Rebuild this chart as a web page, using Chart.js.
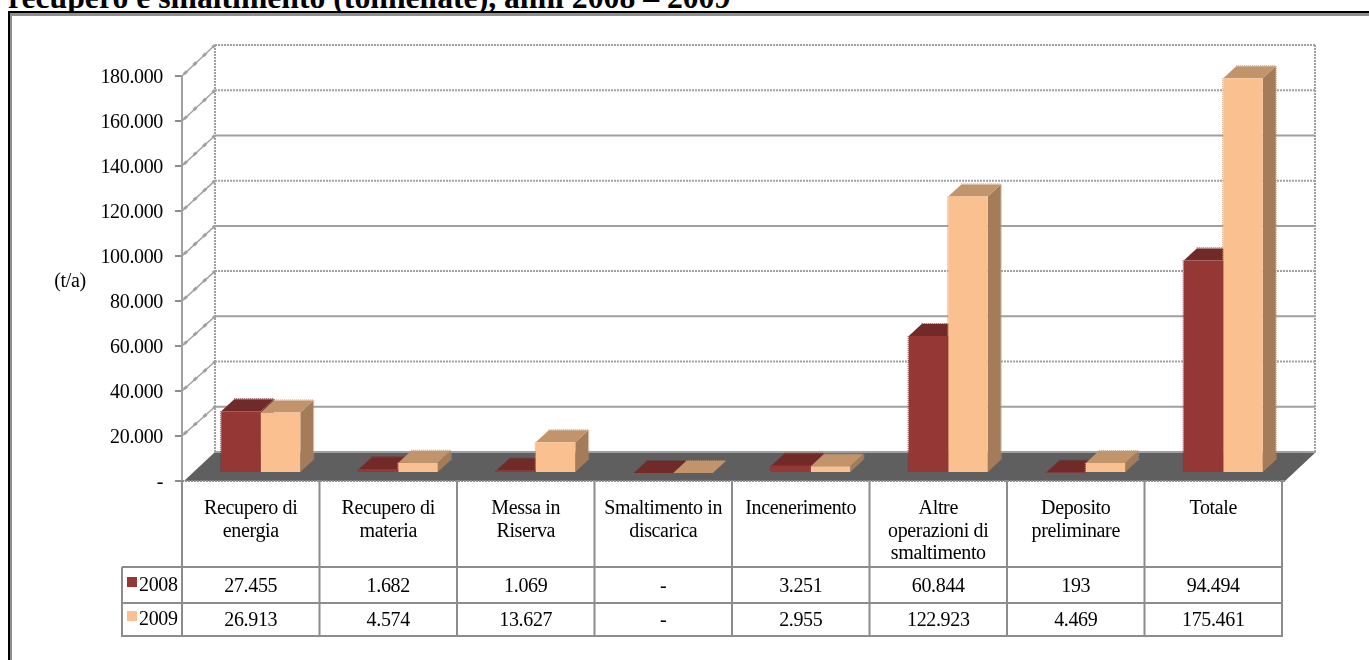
<!DOCTYPE html>
<html>
<head>
<meta charset="utf-8">
<script src="https://cdn.jsdelivr.net/npm/chart.js@4"></script>
<style>
	html, body { margin: 0; padding: 0; background: #fff; overflow: hidden; }
	#wrap { position: relative; width: 1369px; height: 660px; overflow: hidden; }
	#title { position: absolute; left: 8px; top: -20px; font: bold 31.7px "Liberation Serif", serif; line-height: 36px; white-space: nowrap; color: #000; }
	#frame { position: absolute; left: 8px; top: 11px; width: 1400px; height: 700px; border-left: 2px solid #000; border-top: 2px solid #000; box-shadow: inset 2px 3px 0 #8f8f8f; }
	canvas { position: absolute; left: 0; top: 0; }
</style>
</head>
<body>
<div id="wrap">
	<div id="title">recupero e smaltimento (tonnellate), anni 2008 – 2009</div>
	<div id="frame"></div>
	<canvas id="chart" width="1369" height="660"></canvas>
</div>
<script>
// 데이터
const categories = [
	['Recupero di', 'energia'],
	['Recupero di', 'materia'],
	['Messa in', 'Riserva'],
	['Smaltimento in', 'discarica'],
	['Incenerimento'],
	['Altre', 'operazioni di', 'smaltimento'],
	['Deposito', 'preliminare'],
	['Totale']
];
const values2008 = [27455, 1682, 1069, 0, 3251, 60844, 193, 94494];
const values2009 = [26913, 4574, 13627, 0, 2955, 122923, 4469, 175461];
const yTicks = [0, 20000, 40000, 60000, 80000, 100000, 120000, 140000, 160000, 180000];
const dottedTicks = [40000, 80000, 120000, 160000, 180000];
const years = ['2008', '2009'];

const FONT = '"Liberation Serif", serif';
const GRID = '#a0a0a0';
const TABLE = '#8c8c8c';
const faces = [
	{ front: '#953735', top: '#722a28', side: '#722a28' },
	{ front: '#fac090', top: '#c1946b', side: '#a47c5a' }
];

// 숫자 표시 (0은 '-')
function fmt(n) {
	if (n === 0) return '-';
	return String(n).replace(/\B(?=(\d{3})+$)/g, '.');
}

const TIGHT = '-0.35px';

const wallPlugin = {
	id: 'wall',
	afterLayout(chart) {
		// y축 라벨을 조금 아래로
		chart.scales.y.getLabelItems().forEach((item) => {
			item.options.translation[1] += 2;
		});
	},
	beforeDraw(chart) {
		const ctx = chart.ctx;
		const y = chart.scales.y;
		const a = chart.chartArea;
		ctx.letterSpacing = TIGHT;
		const backY = (px) => 452 - (a.bottom - px) * 407 / 405;
		ctx.save();
		// 바닥
		ctx.fillStyle = '#5f5f5f';
		ctx.beginPath();
		ctx.moveTo(a.left + 2, a.bottom);
		ctx.lineTo(a.left + 33, 452);
		ctx.lineTo(a.right + 34, 452);
		ctx.lineTo(a.right + 3, a.bottom);
		ctx.closePath();
		ctx.fill();
		// 뒷벽 격자
		ctx.strokeStyle = GRID;
		ctx.lineWidth = 2;
		yTicks.forEach((t) => {
			const py = backY(y.getPixelForValue(t));
			ctx.setLineDash(dottedTicks.includes(t) ? [2, 1] : []);
			ctx.beginPath();
			ctx.moveTo(a.left + 33, py);
			ctx.lineTo(a.right + 33, py);
			ctx.stroke();
		});
		ctx.setLineDash([2, 1]);
		ctx.beginPath();
		ctx.moveTo(a.left + 33, backY(a.top));
		ctx.lineTo(a.left + 33, 452);
		ctx.moveTo(a.right + 33, backY(a.top));
		ctx.lineTo(a.right + 33, 452);
		ctx.stroke();
		// 왼쪽 벽 사선
		yTicks.forEach((t) => {
			if (t === 0) return;
			const py = y.getPixelForValue(t);
			ctx.beginPath();
			ctx.lineWidth = 1.5;
			ctx.setLineDash([]);
			ctx.moveTo(a.left, py);
			ctx.lineTo(a.left + 33, backY(py));
			ctx.stroke();
			ctx.beginPath();
			ctx.lineWidth = 3;
			ctx.setLineDash([4, 9]);
			ctx.moveTo(a.left + 2, py - 2);
			ctx.lineTo(a.left + 33, backY(py));
			ctx.stroke();
		});
		ctx.restore();
	},
	beforeDatasetsDraw(chart) {
		const ctx = chart.ctx;
		ctx.save();
		ctx.translate(10, -8);
		// 막대 윗면, 옆면
		chart.data.datasets.forEach((ds, i) => {
			chart.getDatasetMeta(i).data.forEach((bar) => {
				const p = bar.getProps(['x', 'y', 'base', 'width'], true);
				const l = p.x - p.width / 2;
				const r = p.x + p.width / 2;
				ctx.fillStyle = faces[i].side;
				ctx.beginPath();
				ctx.moveTo(r, p.y);
				ctx.lineTo(r + 13, p.y - 12);
				ctx.lineTo(r + 13, p.base - 12);
				ctx.lineTo(r, p.base);
				ctx.closePath();
				ctx.fill();
				ctx.fillStyle = faces[i].top;
				ctx.beginPath();
				ctx.moveTo(l, p.y);
				ctx.lineTo(l + 13, p.y - 12);
				ctx.lineTo(r + 13, p.y - 12);
				ctx.lineTo(r, p.y);
				ctx.closePath();
				ctx.fill();
				// 톱니 모양 가장자리
				ctx.save();
				ctx.strokeStyle = faces[i].top;
				ctx.setLineDash([1, 1]);
				ctx.beginPath();
				ctx.moveTo(l + 13, p.y - 12.5);
				ctx.lineTo(r + 13, p.y - 12.5);
				ctx.moveTo(r + 13.5, p.y - 12);
				ctx.lineTo(r + 13.5, p.base - 12);
				ctx.moveTo(l - 0.5, p.y);
				ctx.lineTo(l - 0.5, p.base);
				ctx.stroke();
				ctx.restore();
			});
		});
	},
	afterDatasetsDraw(chart) {
		chart.ctx.restore();
		drawTable(chart);
	}
};

// 데이터 테이블
function drawTable(chart) {
	const ctx = chart.ctx;
	const x = chart.scales.x;
	const a = chart.chartArea;
	const rows = [567, 603, 636];
	const rowText = [587, 621];
	const cols = categories.length;
	const w = (a.right - a.left) / cols;
	ctx.save();
	ctx.strokeStyle = TABLE;
	ctx.lineWidth = 2;
	ctx.beginPath();
	for (let i = 0; i <= cols; i++) {
		ctx.moveTo(a.left + i * w, a.bottom - 1);
		ctx.lineTo(a.left + i * w, rows[2] + 1);
	}
	rows.forEach((r) => {
		ctx.moveTo(122, r);
		ctx.lineTo(a.right + 1, r);
	});
	ctx.moveTo(122, rows[0]);
	ctx.lineTo(122, rows[2] + 1);
	ctx.stroke();
	// 바닥 앞쪽 선
	ctx.setLineDash([2, 1]);
	ctx.beginPath();
	ctx.moveTo(a.left, a.bottom);
	ctx.lineTo(a.right + 3, a.bottom);
	ctx.stroke();
	ctx.setLineDash([]);

	ctx.font = '20px ' + FONT;
	ctx.textBaseline = 'middle';
	ctx.fillStyle = '#000';
	[values2008, values2009].forEach((vals, r) => {
		ctx.textAlign = 'center';
		vals.forEach((v, i) => {
			ctx.fillText(fmt(v), x.getPixelForValue(i), rowText[r]);
		});
		ctx.textAlign = 'left';
		ctx.fillText(years[r], 139, rowText[r] - 1);
		ctx.fillStyle = faces[r].front;
		ctx.fillRect(127, rowText[r] - 10, 10, 10);
		ctx.fillStyle = '#000';
	});
	// 단위
	ctx.textAlign = 'center';
	ctx.fillText('(t/a)', 70, 282);
	ctx.restore();
}

new Chart(document.getElementById('chart'), {
	type: 'bar',
	data: {
		labels: categories,
		datasets: [
			{ label: years[0], data: values2008, backgroundColor: faces[0].front, clip: false },
			{ label: years[1], data: values2009, backgroundColor: faces[1].front, clip: false }
		]
	},
	options: {
		responsive: false,
		animation: false,
		layout: { padding: { left: 0, top: 76, right: 87, bottom: 24 } },
		datasets: { bar: { categoryPercentage: 0.575, barPercentage: 1 } },
		plugins: { legend: { display: false }, title: { display: false }, tooltip: { enabled: false } },
		scales: {
			x: {
				afterFit(scale) { scale.height = 155; },
				grid: { display: false },
				border: { display: false },
				ticks: {
					autoSkip: false,
					maxRotation: 0,
					minRotation: 0,
					padding: 9,
					color: '#000',
					font: { family: FONT, size: 20, lineHeight: 1.12 }
				}
			},
			y: {
				min: 0,
				max: 180000,
				afterFit(scale) { scale.width = 182; },
				afterBuildTicks(scale) { scale.ticks = yTicks.map((v) => ({ value: v })); },
				grid: { drawOnChartArea: false, color: TABLE, tickLength: 7, lineWidth: 2 },
				border: { color: GRID, width: 2 },
				ticks: {
					padding: 12,
					color: '#000',
					font: { family: FONT, size: 20 },
					callback: (v) => fmt(v)
				}
			}
		}
	},
	plugins: [wallPlugin]
});
</script>
</body>
</html>
